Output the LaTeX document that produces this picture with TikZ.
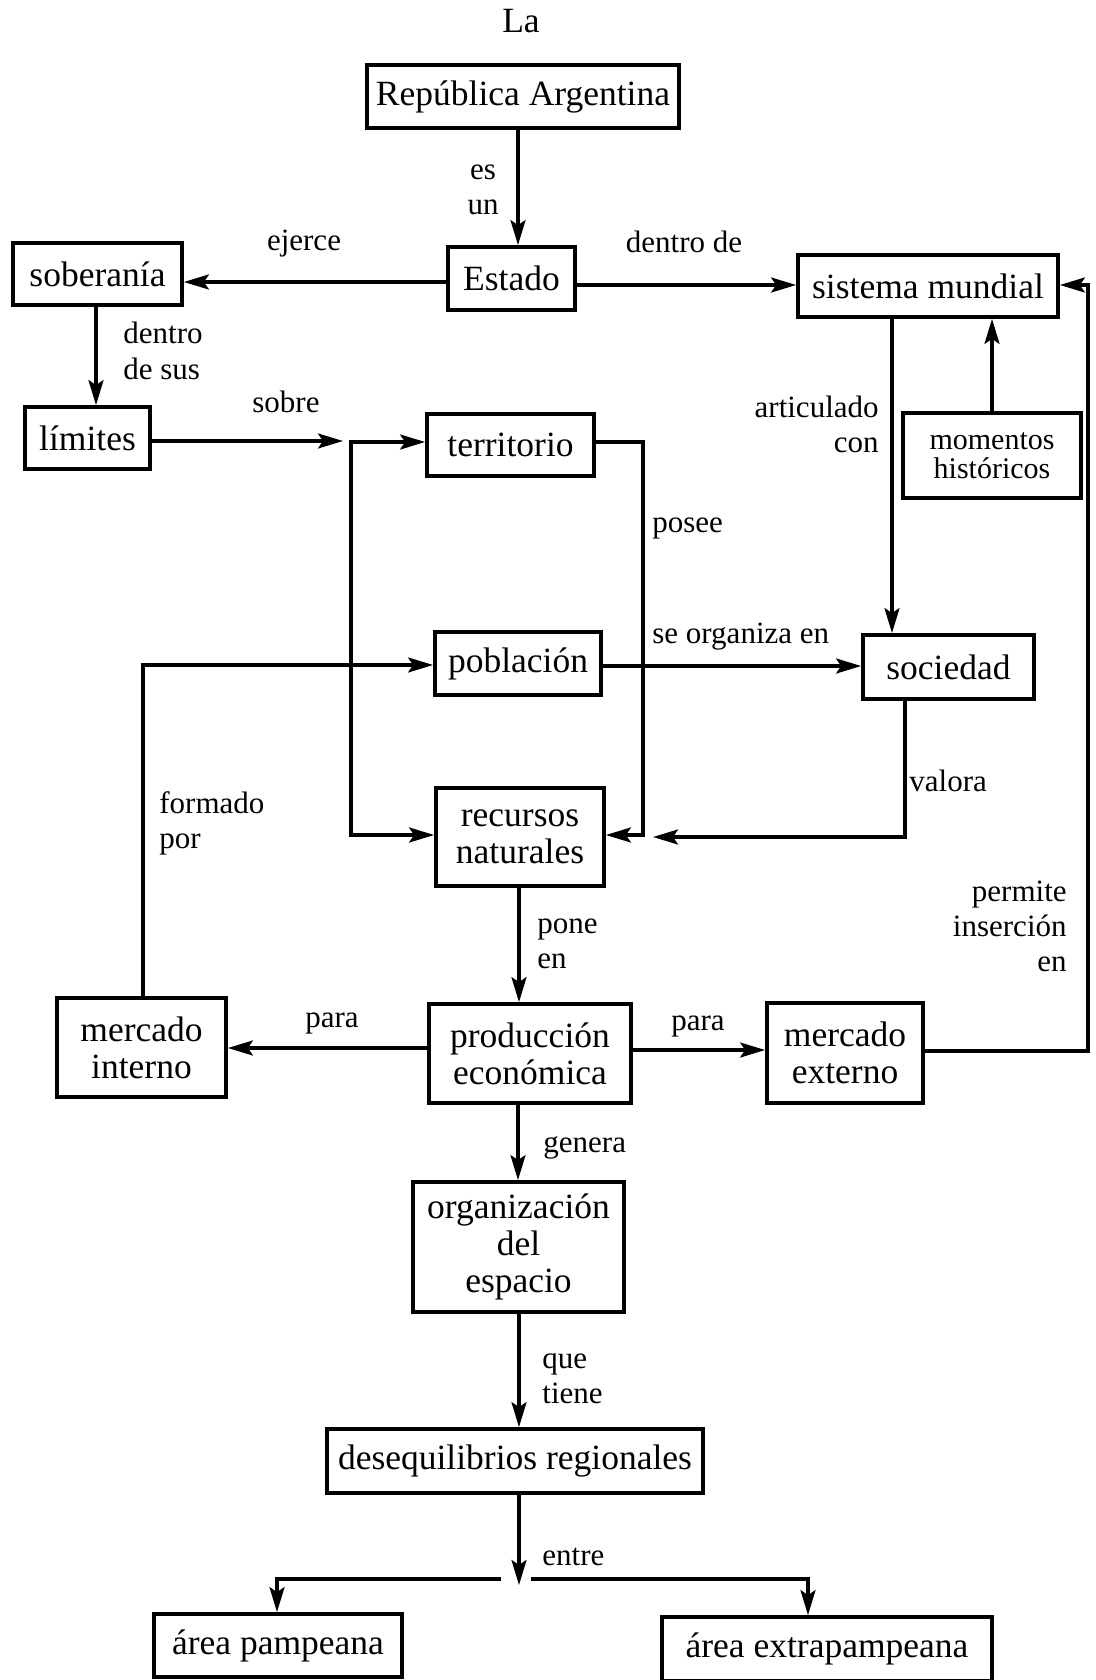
\documentclass[tikz,border=0pt]{standalone}
\usepackage{fontspec}
\setmainfont{Liberation Serif}
\usetikzlibrary{arrows.meta}
\newcommand{\boxfont}{\fontsize{17.75pt}{18.5pt}\selectfont}
\newcommand{\lblfont}{\fontsize{15.5pt}{17.5pt}\selectfont}
\newcommand{\momfont}{\fontsize{15pt}{14.5pt}\selectfont}
\begin{document}
\begin{tikzpicture}[x=0.5pt,y=-0.5pt,
  box/.style={draw, line width=1.9pt, inner sep=0pt, align=center, font=\boxfont},
  lbl/.style={inner sep=0pt, font=\lblfont},
  arr/.style={line width=1.6pt, line join=miter, -{Stealth[length=12.5pt,width=7.5pt,inset=2.5pt]}},
  arrtwo/.style={line width=1.6pt, line join=miter, {Stealth[length=12.5pt,width=7.5pt,inset=2.5pt]}-{Stealth[length=12.5pt,width=7.5pt,inset=2.5pt]}}]
\useasboundingbox (0,0) rectangle (1096,1680);
\fill[white] (0,0) rectangle (1096,1680);

% nodes
\node[inner sep=0pt, font=\boxfont, anchor=base] (la) at (521,33) {La};
\node[box, minimum width=156pt, minimum height=31.5pt] (rep) at (523,96.5) {República Argentina};
\node[box, minimum width=63.5pt, minimum height=31.5pt] (estado) at (511.5,278.5) {Estado};
\node[box, minimum width=84.5pt, minimum height=31pt] (sober) at (97.5,274) {soberanía};
\node[box, minimum width=130pt, minimum height=31pt] (sistema) at (928,286) {sistema mundial};
\node[box, minimum width=62.5pt, minimum height=31pt] (limites) at (87.5,438) {límites};
\node[box, minimum width=83.5pt, minimum height=31pt] (territorio) at (510.5,445) {territorio};
\node[box, font=\momfont, minimum width=89pt, minimum height=42.5pt] (momentos) at (992,455.5) {momentos\\históricos};
\node[box, minimum width=83pt, minimum height=31.5pt] (poblacion) at (518,663.5) {población};
\node[box, minimum width=85.5pt, minimum height=32pt] (sociedad) at (948.5,667) {sociedad};
\node[box, minimum width=84pt, minimum height=49pt] (recursos) at (520,837) {recursos\\naturales};
\node[box, minimum width=84.5pt, minimum height=49.5pt] (mercint) at (141.5,1047.5) {mercado\\interno};
\node[box, minimum width=101pt, minimum height=49.5pt] (produccion) at (530,1053.5) {producción\\económica};
\node[box, minimum width=78pt, minimum height=50pt] (mercext) at (845,1053) {mercado\\externo};
\node[box, minimum width=105.5pt, minimum height=65pt] (organizacion) at (518.5,1247) {organización\\del\\espacio};
\node[box, minimum width=188pt, minimum height=32pt] (deseq) at (515,1461) {desequilibrios regionales};
\node[box, minimum width=124pt, minimum height=31.5pt] (pampeana) at (278,1645.5) {área pampeana};
\node[box, minimum width=165pt, minimum height=32pt] (extrapampeana) at (827,1649) {área extrapampeana};

% helper coordinates
\coordinate (x518) at (518,0);
\coordinate (x96) at (96,0);
\coordinate (x892) at (892,0);
\coordinate (x519) at (519,0);
\coordinate (y282) at (0,282);
\coordinate (y285) at (0,285);
\coordinate (y666) at (0,666);
\coordinate (y1048) at (0,1048);
\coordinate (y1050) at (0,1050);
\coordinate (sobreend) at (343,441);
\coordinate (bla) at (351,442);
\coordinate (blb) at (351,835);
\coordinate (bra) at (643,442);
\coordinate (brb) at (643,835);
\coordinate (valc) at (905,837);
\coordinate (valend) at (653,837);
\coordinate (fba) at (1088,1051);
\coordinate (fbb) at (1088,285);
\coordinate (pobc) at (143,665);
\coordinate (split) at (519,1585);
\coordinate (sla) at (501,1579);
\coordinate (slb) at (277,1579);
\coordinate (sra) at (531,1579);
\coordinate (srb) at (808,1579);

% connectors
\draw[arr] (rep.south -| x518) -- (estado.north -| x518);
\draw[arr] (estado.west |- y282) -- (sober.east |- y282);
\draw[arr] (estado.east |- y285) -- (sistema.west |- y285);
\draw[arr] (sober.south -| x96) -- (limites.north -| x96);
\draw[arr] (limites.east |- sobreend) -- (sobreend);
\draw[arrtwo] (territorio.west |- bla) -- (bla) -- (blb) -- (recursos.west |- blb);
\draw[arr] (territorio.east |- bra) -- (bra) -- (brb) -- (recursos.east |- brb);
\draw[arr] (poblacion.east |- y666) -- (sociedad.west |- y666);
\draw[arr] (sistema.south -| x892) -- (sociedad.north -| x892);
\draw[arr] (momentos.north) -- (momentos.north |- sistema.south);
\draw[arr] (sociedad.south -| valc) -- (valc) -- (valend);
\draw[arr] (recursos.south -| x519) -- (produccion.north -| x519);
\draw[arr] (produccion.west |- y1048) -- (mercint.east |- y1048);
\draw[arr] (produccion.east |- y1050) -- (mercext.west |- y1050);
\draw[arr] (mercext.east |- fba) -- (fba) -- (fbb) -- (sistema.east |- fbb);
\draw[arr] (mercint.north -| pobc) -- (pobc) -- (poblacion.west |- pobc);
\draw[arr] (produccion.south -| x518) -- (organizacion.north -| x518);
\draw[arr] (organizacion.south -| x519) -- (deseq.north -| x519);
\draw[arr] (deseq.south -| split) -- (split);
\draw[arr] (sla) -- (slb) -- (pampeana.north -| slb);
\draw[arr] (sra) -- (srb) -- (extrapampeana.north -| srb);

% labels (multi-line: base = last line's baseline)
\node[lbl, align=center, anchor=base] (esun) at (483,215) {es\\un};
\node[lbl, anchor=base] (ejerce) at (304,250) {ejerce};
\node[lbl, anchor=base] (dentrode) at (684,252) {dentro de};
\node[lbl, align=left, anchor=base west] (dentrosus) at (123,379) {dentro\\de sus};
\node[lbl, anchor=base] (sobre) at (286,412) {sobre};
\node[lbl, align=right, anchor=base east] (articulado) at (879,452) {articulado\\con};
\node[lbl, anchor=base west] (posee) at (652,532) {posee};
\node[lbl, anchor=base west] (seorg) at (652,643) {se organiza en};
\node[lbl, anchor=base west] (valora) at (909,791) {valora};
\node[lbl, align=left, anchor=base west] (formado) at (159,848) {formado\\por};
\node[lbl, align=left, anchor=base west] (pone) at (537,968) {pone\\en};
\node[lbl, align=right, anchor=base east] (permite) at (1067,971) {permite\\inserción\\en};
\node[lbl, anchor=base] (paraa) at (332,1027) {para};
\node[lbl, anchor=base] (parab) at (698,1030) {para};
\node[lbl, anchor=base west] (genera) at (543,1152) {genera};
\node[lbl, align=left, anchor=base west] (quetiene) at (542,1403) {que\\tiene};
\node[lbl, anchor=base west] (entre) at (542,1565) {entre};
\end{tikzpicture}
\end{document}
